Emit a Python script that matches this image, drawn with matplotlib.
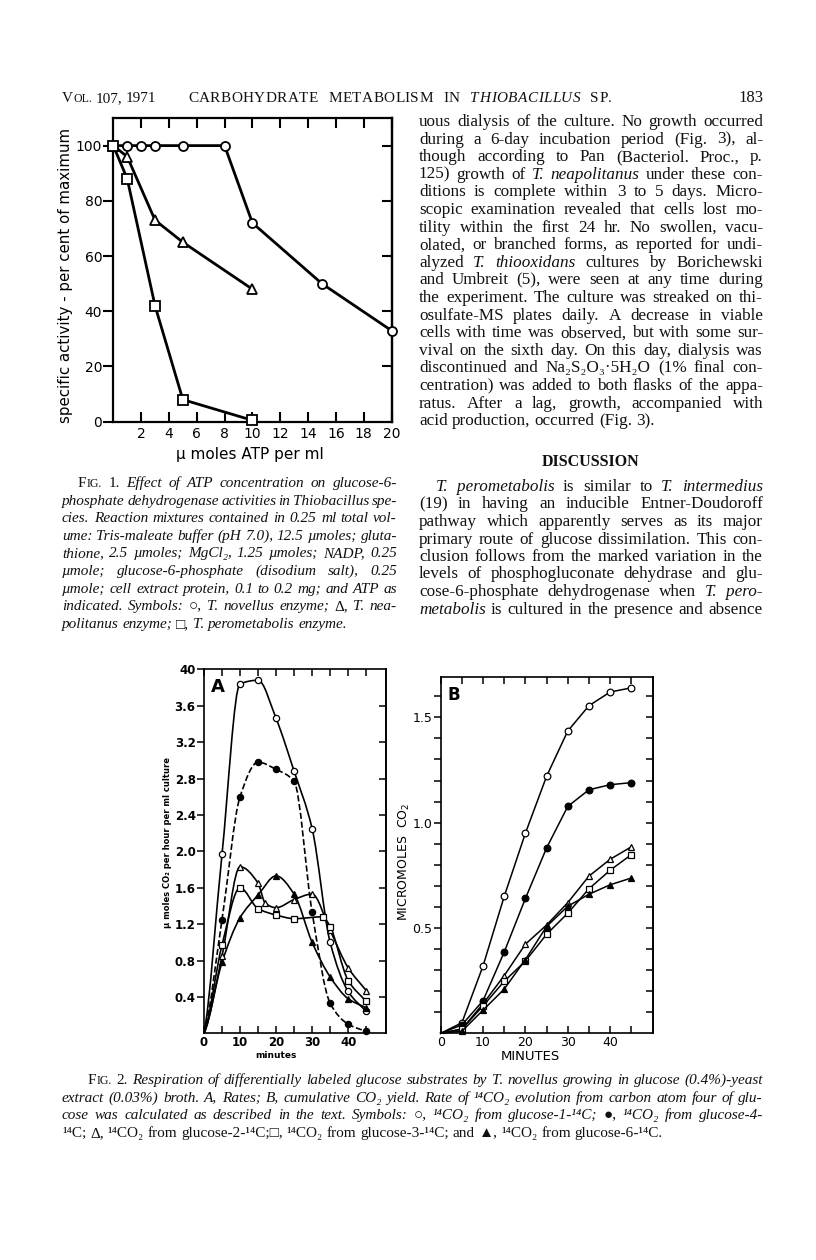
import numpy as np
import matplotlib
matplotlib.use('Agg')
import matplotlib.pyplot as plt
from matplotlib.path import Path
from matplotlib.patches import PathPatch

W, H = 816, 1260
SERIF = ['Liberation Serif', 'DejaVu Serif']
SANS = ['DejaVu Sans']

# ---- Fig. 1 : specific activity vs ATP (umoles/ml)
atp_novellus_x = [0, 1, 2, 3, 5, 8, 10, 15, 20]
atp_novellus_y = [100, 100, 100, 100, 100, 100, 72, 50, 33]
atp_neapol_x = [0, 1, 3, 5, 10]
atp_neapol_y = [100, 96, 73, 65, 48]
atp_perom_x = [0, 1, 3, 5, 10]
atp_perom_y = [100, 88, 42, 8, 0.5]

# ---- Fig. 2A : rates (umoles CO2 / hr / ml)
a_x = [0, 5, 10, 15, 20, 25, 30, 35, 40, 45]
a_glc1 = [0, 1.97, 3.84, 3.88, 3.46, 2.88, 2.25, 1.0, 0.46, 0.24]
a_glc4 = [0, 1.25, 2.6, 2.98, 2.9, 2.77, 1.33, 0.33, 0.1, 0.02]
a_glc2_x = [0, 5, 10, 15, 17, 20, 25, 30, 35, 40, 45]
a_glc2 = [0, 0.85, 1.83, 1.65, 1.43, 1.38, 1.47, 1.53, 1.13, 0.72, 0.47]
a_glc3_x = [0, 5, 10, 15, 20, 25, 33, 35, 40, 45]
a_glc3 = [0, 0.97, 1.6, 1.37, 1.3, 1.26, 1.28, 1.17, 0.58, 0.35]
a_glc6 = [0, 0.78, 1.27, 1.52, 1.73, 1.53, 1.0, 0.62, 0.38, 0.28]
a_ytick_vals = [0.4, 0.8, 1.2, 1.6, 2.0, 2.4, 2.8, 3.2, 3.6, 4.0]
a_ytick_labels = ['0.4', '0.8', '1.2', '1.6', '2.0', '2.4', '2.8', '3.2', '3.6', '40']

# ---- Fig. 2B : cumulative CO2 (umoles)
b_x = [0, 5, 10, 15, 20, 25, 30, 35, 40, 45]
b_glc1 = [0, 0.05, 0.32, 0.65, 0.95, 1.22, 1.435, 1.555, 1.62, 1.64]
b_glc4 = [0, 0.04, 0.155, 0.386, 0.64, 0.88, 1.077, 1.156, 1.18, 1.19]
b_glc2 = [0, 0.02, 0.14, 0.274, 0.423, 0.514, 0.62, 0.746, 0.826, 0.885]
b_glc3 = [0, 0.02, 0.13, 0.247, 0.343, 0.47, 0.57, 0.686, 0.774, 0.848]
b_glc6 = [0, 0.01, 0.11, 0.21, 0.35, 0.507, 0.603, 0.66, 0.705, 0.737]

# ---- page text
header_left = 'V~OL.~ 107, 1971'
header_mid = ['CARBOHYDRATE', 'METABOLISM', 'IN', '*THIOBACILLUS*', 'SP.']
header_page = '183'

col_right = [
    'uous dialysis of the culture. No growth occurred',
    'during a 6-day incubation period (Fig. 3), al-',
    'though according to Pan (Bacteriol. Proc., p.',
    '125) growth of *T. neapolitanus* under these con-',
    'ditions is complete within 3 to 5 days. Micro-',
    'scopic examination revealed that cells lost mo-',
    'tility within the first 24 hr. No swollen, vacu-',
    'olated, or branched forms, as reported for undi-',
    'alyzed *T. thiooxidans* cultures by Borichewski',
    'and Umbreit (5), were seen at any time during',
    'the experiment. The culture was streaked on thi-',
    'osulfate-MS plates daily. A decrease in viable',
    'cells with time was observed, but with some sur-',
    'vival on the sixth day. On this day, dialysis was',
    'discontinued and Na₂S₂O₃·5H₂O (1% final con-',
    'centration) was added to both flasks of the appa-',
    'ratus. After a lag, growth, accompanied with',
    'acid production, occurred (Fig. 3).',
]
discussion = [
    '*T. perometabolis* is similar to *T. intermedius*',
    '(19) in having an inducible Entner-Doudoroff',
    'pathway which apparently serves as its major',
    'primary route of glucose dissimilation. This con-',
    'clusion follows from the marked variation in the',
    'levels of phosphogluconate dehydrase and glu-',
    'cose-6-phosphate dehydrogenase when *T. pero-*',
    '*metabolis* is cultured in the presence and absence',
]
fig1_caption = [
    'F~IG.~ 1. *Effect of ATP concentration on glucose-6-*',
    '*phosphate dehydrogenase activities in Thiobacillus spe-*',
    '*cies. Reaction mixtures contained in 0.25 ml total vol-*',
    '*ume: Tris-maleate buffer (pH 7.0), 12.5 µmoles; gluta-*',
    '*thione, 2.5 µmoles; MgCl₂, 1.25 µmoles; NADP, 0.25*',
    '*µmole; glucose-6-phosphate (disodium salt), 0.25*',
    '*µmole; cell extract protein, 0.1 to 0.2 mg; and ATP as*',
    '*indicated. Symbols:* ○, *T. novellus enzyme;* Δ, *T. nea-*',
    '*politanus enzyme;* □, *T. perometabolis enzyme.*',
]
fig2_caption = [
    'F~IG.~ 2. *Respiration of differentially labeled glucose substrates by T. novellus growing in glucose (0.4%)-yeast*',
    '*extract (0.03%) broth. A, Rates; B, cumulative CO₂ yield. Rate of ¹⁴CO₂ evolution from carbon atom four of glu-*',
    '*cose was calculated as described in the text. Symbols:* ○, *¹⁴CO₂ from glucose-1-¹⁴C;* ●, *¹⁴CO₂ from glucose-4-*',
    '¹⁴C; Δ, ¹⁴CO₂ from glucose-2-¹⁴C;□, ¹⁴CO₂ from glucose-3-¹⁴C; and ▲, ¹⁴CO₂ from glucose-6-¹⁴C.',
]

fig = plt.figure(figsize=(W / 100, H / 100), dpi=100)
fig.patch.set_facecolor('white')
renderer = fig.canvas.get_renderer()


def axes_px(left, top, right, bottom):
    return fig.add_axes([left / W, 1 - bottom / H, (right - left) / W, (bottom - top) / H])


def parse_words(line):
    # '*' italic, '#' bold, '~' small caps size
    words = []
    italic = bold = small = False
    for raw in line.split(' '):
        if raw == '':
            continue
        pieces = []
        buf = ''
        for ch in raw:
            if ch in '*#~':
                if buf:
                    pieces.append((buf, italic, bold, small))
                    buf = ''
                if ch == '*':
                    italic = not italic
                elif ch == '#':
                    bold = not bold
                else:
                    small = not small
            else:
                buf += ch
        if buf:
            pieces.append((buf, italic, bold, small))
        if pieces:
            words.append(pieces)
    return words


def make_text(text, base, size, italic=False, bold=False, family=SERIF):
    t = fig.text(0, 1 - base / H, text, fontsize=size, family=family,
                 style='italic' if italic else 'normal',
                 weight='bold' if bold else 'normal', va='baseline', ha='left',
                 color='#111111')
    return t, t.get_window_extent(renderer).width


def draw_line(line, base, x0, x1=None, size=11.0, justify=True, family=SERIF):
    words = parse_words(line)
    objs, widths = [], []
    for pieces in words:
        wobjs, ww = [], 0
        for text, it, bd, sm in pieces:
            t, w = make_text(text, base, size * (0.78 if sm else 1.0), it, bd, family)
            wobjs.append((t, w))
            ww += w
        objs.append(wobjs)
        widths.append(ww)
    gap = size * 100 / 72 * 0.25
    if justify and x1 is not None and len(words) > 1:
        gap = (x1 - x0 - sum(widths)) / (len(words) - 1)
    x = x0
    for wobjs in objs:
        for t, w in wobjs:
            t.set_x(x / W)
            x += w
        x += gap


def draw_tracked(words, base, x0, x1, size, space):
    # letter-spaced caps line (running head)
    letters = []
    for wi, word in enumerate(words):
        italic = word.startswith('*')
        for ch in word.strip('*'):
            t, w = make_text(ch, base, size, italic)
            letters.append((t, w, wi))
    total = sum(w for _, w, _ in letters)
    track = (x1 - x0 - total - space * (len(words) - 1)) / (len(letters) - 1)
    x = x0
    for i, (t, w, wi) in enumerate(letters):
        t.set_x(x / W)
        x += w + track
        if i + 1 < len(letters) and letters[i + 1][2] != wi:
            x += space


def draw_block(lines, first_base, step, x0, x1, size, indent=0.0):
    for i, line in enumerate(lines):
        last = i == len(lines) - 1
        draw_line(line, first_base + i * step, x0 + (indent if i == 0 else 0), x1,
                  size=size, justify=not last)


def smooth_path(xs, ys):
    # monotone cubic (Fritsch-Carlson) through the read points, as Bezier segments
    x = np.asarray(xs, float)
    y = np.asarray(ys, float)
    h = np.diff(x)
    d = np.diff(y) / h
    m = np.zeros(len(x))
    for k in range(1, len(x) - 1):
        if d[k - 1] * d[k] > 0:
            w1 = 2 * h[k] + h[k - 1]
            w2 = h[k] + 2 * h[k - 1]
            m[k] = (w1 + w2) / (w1 / d[k - 1] + w2 / d[k])
    m[0] = 0.5 * d[0]
    m[-1] = d[-1]
    verts, codes = [(x[0], y[0])], [Path.MOVETO]
    for k in range(len(x) - 1):
        verts += [(x[k] + h[k] / 3, y[k] + m[k] * h[k] / 3),
                  (x[k + 1] - h[k] / 3, y[k + 1] - m[k + 1] * h[k] / 3),
                  (x[k + 1], y[k + 1])]
        codes += [Path.CURVE4] * 3
    return Path(verts, codes)


# ---------------- header
draw_line(header_left, 102, 62, size=11, justify=False)
draw_tracked(header_mid, 102, 188, 612, 11, 10)
fig.text(763 / W, 1 - 102 / H, header_page, fontsize=12, family=SERIF, ha='right',
         va='baseline', color='#111111')

# ---------------- right column + discussion
draw_block(col_right, 126, 17.6, 419, 763, 12.3)
fig.text(591 / W, 1 - 466 / H, 'DISCUSSION', fontsize=11.5, family=SERIF, weight='bold',
         ha='center', va='baseline', color='#111111')
for i, line in enumerate(discussion):
    draw_line(line, 491 + i * 17.5, 436 if i == 0 else 419, 763, size=12.3)

# ---------------- captions
draw_block(fig1_caption, 487, 17.6, 62, 397, 11, indent=16)
draw_block(fig2_caption, 1084, 17.6, 62, 763, 11, indent=26)

# ---------------- Fig. 1
ax1 = axes_px(113.3, 118, 391.5, 421.7)
ax1.set_xlim(0, 20)
ax1.set_ylim(0, 110)
for xs, ys, mk, ms in [(atp_novellus_x, atp_novellus_y, 'o', 6.5),
                       (atp_neapol_x, atp_neapol_y, '^', 7.5),
                       (atp_perom_x, atp_perom_y, 's', 6.5)]:
    ax1.plot(xs, ys, '-', color='black', lw=2.0, marker=mk, ms=ms, mfc='white',
             mec='black', mew=1.3, clip_on=False, zorder=3)
ax1.set_xticks(range(2, 21, 2))
ax1.set_yticks(range(0, 101, 20))
ax1.tick_params(axis='x', direction='in', top=True, length=7, width=1.5, labelsize=10,
                pad=4)
ax1.tick_params(axis='y', direction='out', length=7, width=1.5, labelsize=10, pad=1)
for lab in ax1.get_xticklabels() + ax1.get_yticklabels():
    lab.set_family(SANS)
ax1r = ax1.secondary_yaxis('right')
ax1r.set_yticks(range(20, 101, 20))
ax1r.tick_params(direction='in', length=7, width=1.5, labelright=False)
for sp in list(ax1.spines.values()) + [ax1r.spines['right']]:
    sp.set_linewidth(1.6)
fig.text(66 / W, 1 - 275 / H, 'specific activity - per cent of maximum', rotation=90,
         fontsize=10.8, family=SANS, ha='center', va='center')
fig.text(250 / W, 1 - 454 / H, 'µ moles ATP per ml', fontsize=11, family=SANS,
         ha='center', va='center')

# ---------------- Fig. 2A
axa = axes_px(204, 669.3, 386, 1033.3)
axa.set_xlim(0, 50.5)
axa.set_ylim(0, 4.0)
series_a = [(a_x, a_glc1, 'o', 'white', '-'),
            (a_x, a_glc4, 'o', 'black', '--'),
            (a_glc2_x, a_glc2, '^', 'white', '-'),
            (a_glc3_x, a_glc3, 's', 'white', '-'),
            (a_x, a_glc6, '^', 'black', '-')]
for xs, ys, mk, fc, ls in series_a:
    axa.add_patch(PathPatch(smooth_path(xs, ys), fill=False, lw=1.2, ls=ls,
                            edgecolor='black', zorder=2, clip_on=False))
    axa.plot(xs[1:], ys[1:], ls='none', marker=mk, ms=4.5, mfc=fc, mec='black',
             mew=0.9, zorder=3, clip_on=False)
axa.set_xticks([0, 10, 20, 30, 40])
axa.set_xticks(np.arange(5, 50, 10), minor=True)
axa.set_yticks(a_ytick_vals)
axa.set_yticklabels(a_ytick_labels)
axa.tick_params(axis='x', which='both', direction='in', top=True, length=5, width=1.1,
                labelsize=8.5, pad=2)
axa.tick_params(axis='y', direction='out', length=5, width=1.1, labelsize=8.5, pad=1)
for lab in axa.get_xticklabels() + axa.get_yticklabels():
    lab.set_family(SANS)
    lab.set_weight('bold')
axar = axa.secondary_yaxis('right')
axar.set_yticks(a_ytick_vals[:-1])
axar.tick_params(direction='in', length=5, width=1.1, labelright=False)
for sp in list(axa.spines.values()) + [axar.spines['right']]:
    sp.set_linewidth(1.2)
axa.text(0.04, 0.975, 'A', transform=axa.transAxes, fontsize=13, weight='bold',
         family=SANS, ha='left', va='top')
fig.text(168 / W, 1 - 842 / H, 'µ moles CO₂ per hour per ml culture', rotation=90,
         fontsize=6, weight='bold', family=SANS, ha='center', va='center')
fig.text(276 / W, 1 - 1056 / H, 'minutes', fontsize=6.5, weight='bold', family=SANS,
         ha='center', va='center')

# ---------------- Fig. 2B
axb = axes_px(440.7, 677.3, 653.3, 1033.3)
axb.set_xlim(0, 50.2)
axb.set_ylim(0, 1.69)
series_b = [(b_glc1, 'o', 'white'), (b_glc4, 'o', 'black'), (b_glc2, '^', 'white'),
            (b_glc3, 's', 'white'), (b_glc6, '^', 'black')]
for ys, mk, fc in series_b:
    axb.plot(b_x, ys, '-', color='black', lw=1.1, marker=mk, ms=4.8, mfc=fc,
             mec='black', mew=0.9, clip_on=False, zorder=3, markevery=slice(1, None))
axb.set_xticks([0, 10, 20, 30, 40])
axb.set_xticks(np.arange(5, 50, 10), minor=True)
axb.set_yticks([0.5, 1.0, 1.5])
axb.set_yticks(np.arange(0.1, 1.65, 0.1), minor=True)
axb.tick_params(axis='x', which='both', direction='in', top=True, length=5, width=1.1,
                labelsize=9, pad=2)
axb.tick_params(axis='y', which='both', direction='out', length=5, width=1.1,
                labelsize=9, pad=1)
for lab in axb.get_xticklabels() + axb.get_yticklabels():
    lab.set_family(SANS)
axbr = axb.secondary_yaxis('right')
axbr.set_yticks(np.arange(0.1, 1.65, 0.1))
axbr.tick_params(direction='in', length=5, width=1.1, labelright=False)
for sp in list(axb.spines.values()) + [axbr.spines['right']]:
    sp.set_linewidth(1.2)
axb.text(0.03, 0.975, 'B', transform=axb.transAxes, fontsize=12, weight='bold',
         family=SANS, ha='left', va='top')
fig.text(404 / W, 1 - 862 / H, 'MICROMOLES  CO$_2$', rotation=90, fontsize=9,
         family=SANS, ha='center', va='center')
fig.text(530 / W, 1 - 1056 / H, 'MINUTES', fontsize=9.5, family=SANS, ha='center',
         va='center')

fig.savefig('out.png', dpi=100, facecolor='white')
